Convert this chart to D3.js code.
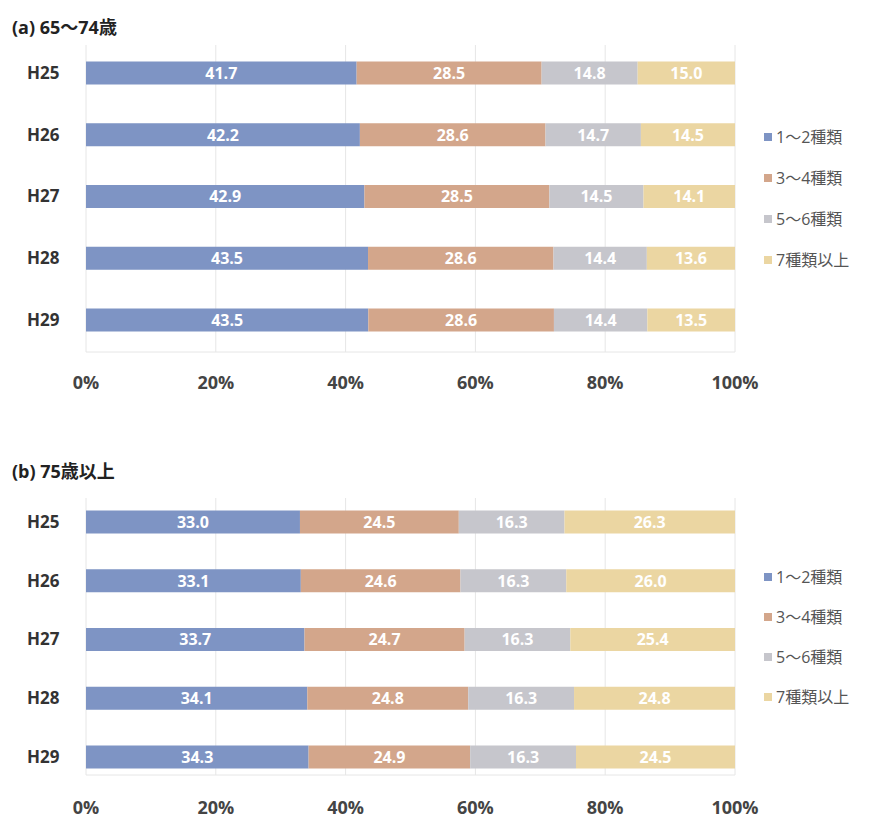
<!DOCTYPE html>
<html>
<head>
<meta charset="utf-8">
<script src="https://cdn.jsdelivr.net/npm/d3@7"></script>
<style>
  body { margin: 0; background: #fff; }
  text { font-family: "Open Sans", "Noto Sans CJK JP", sans-serif; }
</style>
</head>
<body>
<svg id="chart" width="882" height="826"></svg>
<script>
const years = ["H25", "H26", "H27", "H28", "H29"];
const seriesNames = ["1～2種類", "3～4種類", "5～6種類", "7種類以上"];
const colors = ["#7e94c4", "#d3a68b", "#c6c6cc", "#ebd6a2"];
const ticks = [0, 20, 40, 60, 80, 100];

// (a) 65～74歳
const a12 = [41.7, 42.2, 42.9, 43.5, 43.5];
const a34 = [28.5, 28.6, 28.5, 28.6, 28.6];
const a56 = [14.8, 14.7, 14.5, 14.4, 14.4];
const a7 = [15.0, 14.5, 14.1, 13.6, 13.5];

// (b) 75歳以上
const b12 = [33.0, 33.1, 33.7, 34.1, 34.3];
const b34 = [24.5, 24.6, 24.7, 24.8, 24.9];
const b56 = [16.3, 16.3, 16.3, 16.3, 16.3];
const b7 = [26.3, 26.0, 25.4, 24.8, 24.5];

const svg = d3.select("#chart");

const x = d3.scaleLinear().domain([0, 1]).range([86, 735]);

function panel(title, cols, p) {
  const rows = years.map((y, i) => ({
    year: y,
    [seriesNames[0]]: cols[0][i],
    [seriesNames[1]]: cols[1][i],
    [seriesNames[2]]: cols[2][i],
    [seriesNames[3]]: cols[3][i]
  }));

  const stack = d3.stack().keys(seriesNames).offset(d3.stackOffsetExpand);
  const layers = stack(rows);

  const y = d3.scalePoint().domain(years).range([p.y0, p.y1]);
  const barH = 23;
  const g = svg.append("g");

  g.append("text")
    .attr("x", 12)
    .attr("y", p.titleY)
    .attr("dy", "0.35em")
    .attr("font-size", 18)
    .attr("font-weight", "bold")
    .attr("fill", "#222")
    .text(title);

  // grid
  g.selectAll("line.grid")
    .data(ticks)
    .enter()
    .append("line")
    .attr("x1", d => x(d / 100))
    .attr("x2", d => x(d / 100))
    .attr("y1", p.gridTop)
    .attr("y2", p.gridBottom)
    .attr("stroke", "#e6e6e6");

  g.append("line")
    .attr("x1", x(0))
    .attr("x2", x(1))
    .attr("y1", p.gridBottom)
    .attr("y2", p.gridBottom)
    .attr("stroke", "#e6e6e6");

  const layer = g.selectAll("g.layer")
    .data(layers)
    .enter()
    .append("g")
    .attr("fill", (d, i) => colors[i]);

  layer.selectAll("rect")
    .data(d => d)
    .enter()
    .append("rect")
    .attr("x", d => x(d[0]))
    .attr("y", d => y(d.data.year) - barH / 2)
    .attr("width", d => x(d[1]) - x(d[0]))
    .attr("height", barH);

  layers.forEach(l => {
    g.selectAll(null)
      .data(l)
      .enter()
      .append("text")
      .attr("x", d => (x(d[0]) + x(d[1])) / 2)
      .attr("y", d => y(d.data.year))
      .attr("dy", "0.36em")
      .attr("text-anchor", "middle")
      .attr("font-size", 16)
      .attr("font-weight", "bold")
      .attr("fill", "#fff")
      .text(d => d.data[l.key].toFixed(1));
  });

  // category labels
  g.selectAll("text.cat")
    .data(years)
    .enter()
    .append("text")
    .attr("x", 27)
    .attr("y", d => y(d))
    .attr("dy", "0.35em")
    .attr("font-size", 17)
    .attr("font-weight", "bold")
    .attr("fill", "#333")
    .text(d => d);

  // x axis labels
  g.selectAll("text.tick")
    .data(ticks)
    .enter()
    .append("text")
    .attr("x", d => x(d / 100))
    .attr("y", p.axisY)
    .attr("dy", "0.35em")
    .attr("text-anchor", "middle")
    .attr("font-size", 18)
    .attr("font-weight", "bold")
    .attr("fill", "#444")
    .text(d => d + "%");

  // legend
  const leg = g.selectAll("g.leg")
    .data(seriesNames)
    .enter()
    .append("g")
    .attr("transform", (d, i) => `translate(764,${p.legY + i * p.legStep})`);

  leg.append("rect")
    .attr("x", 0)
    .attr("y", -4)
    .attr("width", 8)
    .attr("height", 8)
    .attr("fill", (d, i) => colors[i]);

  leg.append("text")
    .attr("x", 12)
    .attr("y", 0)
    .attr("dy", "0.35em")
    .attr("font-size", 16)
    .attr("fill", "#555")
    .text(d => d);
}

panel("(a) 65～74歳", [a12, a34, a56, a7], {
  titleY: 28, y0: 73, y1: 320, gridTop: 45, gridBottom: 352,
  axisY: 383, legY: 137, legStep: 41
});

panel("(b) 75歳以上", [b12, b34, b56, b7], {
  titleY: 472, y0: 522, y1: 757, gridTop: 498, gridBottom: 775,
  axisY: 808, legY: 577, legStep: 40
});
</script>
</body>
</html>
